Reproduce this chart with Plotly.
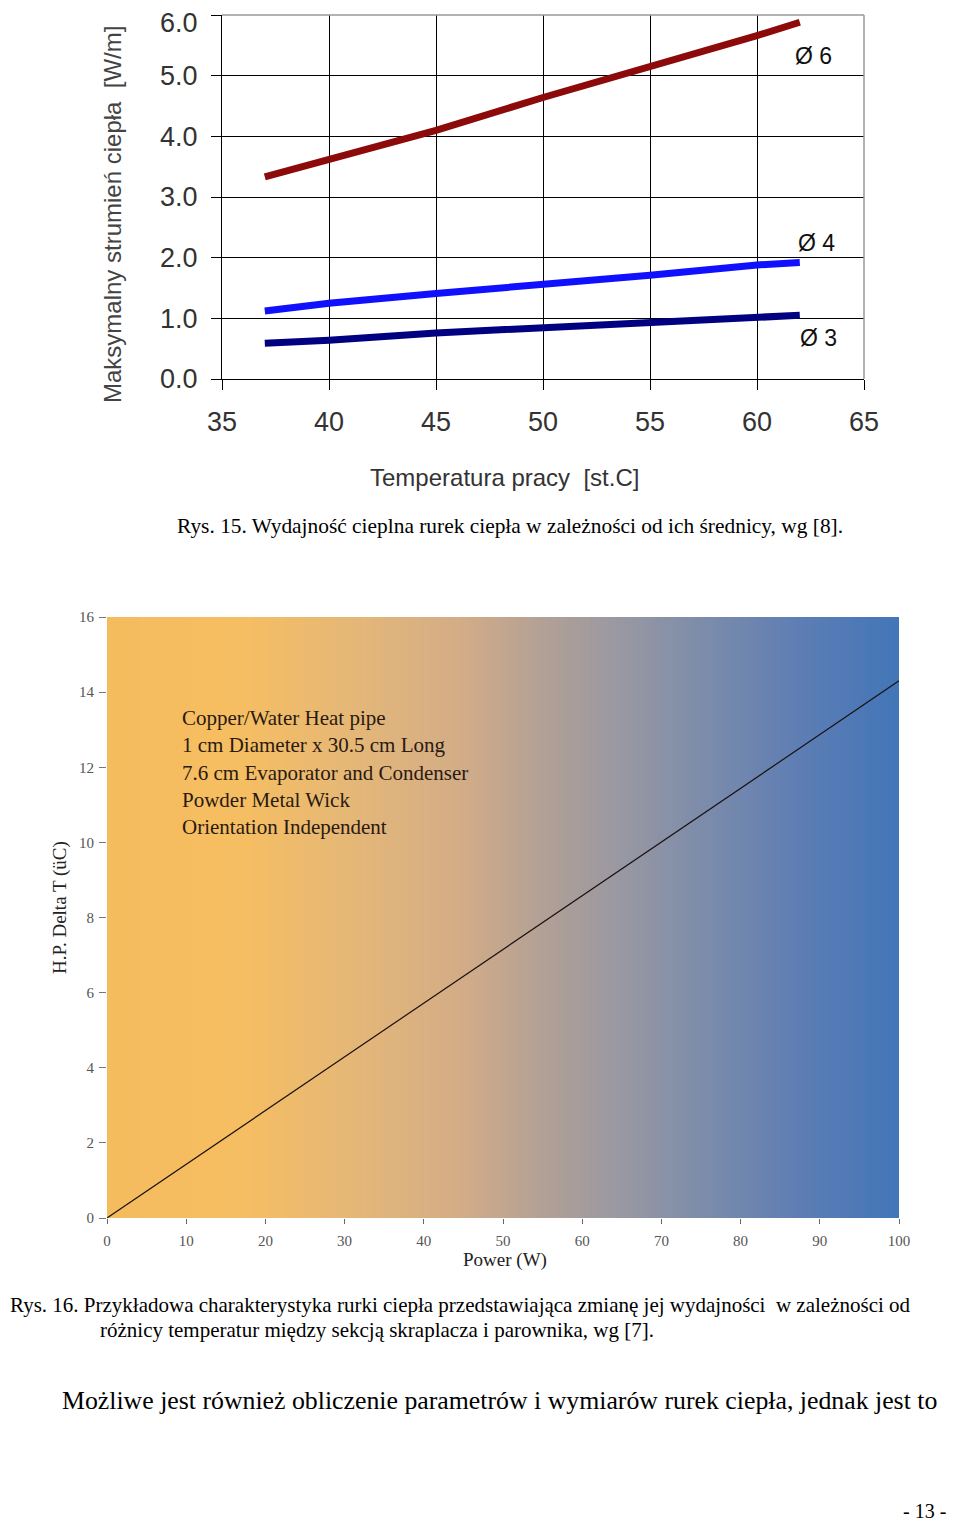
import numpy as np
import plotly.graph_objects as go

# ---------------- Data: chart 1 (Rys. 15) ----------------
temp_x = [37, 40, 45, 50, 55, 60, 62]
q_d6 = [3.33, 3.61, 4.10, 4.64, 5.14, 5.66, 5.88]
q_d4 = [1.12, 1.25, 1.41, 1.55, 1.71, 1.88, 1.92]
q_d3 = [0.59, 0.64, 0.76, 0.84, 0.92, 1.02, 1.05]
series_names = ["Ø 6", "Ø 4", "Ø 3"]
series_colors = ["#8c0a0a", "#1010ff", "#000080"]
label_x = [61.7, 61.8, 61.9]
label_y = [5.32, 2.25, 0.68]

x1_ticks = [35, 40, 45, 50, 55, 60, 65]
y1_ticks = [0, 1, 2, 3, 4, 5, 6]
y1_ticklabels = ["0.0", "1.0", "2.0", "3.0", "4.0", "5.0", "6.0"]

# ---------------- Data: chart 2 (Rys. 16) ----------------
power_x = [0, 100]
delta_t = [0, 14.3]
x2_ticks = [0, 10, 20, 30, 40, 50, 60, 70, 80, 90, 100]
y2_ticks = [0, 2, 4, 6, 8, 10, 12, 14, 16]
info_lines = ["Copper/Water Heat pipe", "1 cm Diameter x 30.5 cm Long",
              "7.6 cm Evaporator and Condenser", "Powder Metal Wick",
              "Orientation Independent"]

# page body has an 8px margin: the figure is placed at (8, 8)
OFF = 8
W, H = 960 - OFF, 1521 - OFF
def px(x):
    return (x - OFF) / W
def py(y):
    return 1 - (y - OFF) / H

SANS = "Liberation Sans, Arial"
SERIF = "Liberation Serif, Times New Roman"

fig = go.Figure()

# chart 1 lines
for ys, name, col in zip([q_d6, q_d4, q_d3], series_names, series_colors):
    fig.add_trace(go.Scatter(x=temp_x, y=ys, mode="lines", name=name,
                             line=dict(color=col, width=7), xaxis="x", yaxis="y",
                             showlegend=False, hoverinfo="skip"))

# chart 2 gradient background
gx = np.linspace(0, 100, 201)
fig.add_trace(go.Heatmap(x=gx, y=[0, 16], z=[gx, gx], xaxis="x2", yaxis="y2",
                         zsmooth="best", showscale=False, hoverinfo="skip",
                         colorscale=[[0.0, "rgb(245,188,94)"], [0.17, "rgb(246,190,98)"],
                                     [0.30, "rgb(230,184,118)"], [0.45, "rgb(210,172,135)"],
                                     [0.55, "rgb(178,160,150)"], [0.65, "rgb(152,152,162)"],
                                     [0.75, "rgb(125,140,170)"], [0.88, "rgb(92,125,180)"],
                                     [1.0, "rgb(66,118,184)"]]))
fig.add_trace(go.Scatter(x=power_x, y=delta_t, mode="lines", xaxis="x2", yaxis="y2",
                         line=dict(color="#1a1010", width=1.2), showlegend=False,
                         hoverinfo="skip"))

# the top tick label would be cut by the page edge; it is drawn as a text just below it
axis_ticktext = y1_ticklabels[:-1] + [""]

fig.update_layout(
    width=W, height=H, margin=dict(l=0, r=0, t=0, b=0, pad=0),
    paper_bgcolor="white", plot_bgcolor="rgba(0,0,0,0)",
    showlegend=False,
    xaxis=dict(domain=[px(222), px(864)], range=[35, 65], tickvals=x1_ticks,
               showgrid=True, gridcolor="black", gridwidth=1,
               showline=True, linecolor="black", linewidth=1,
               ticks="outside", ticklen=10, tickcolor="black", ticklabelstandoff=9,
               tickfont=dict(family=SANS, size=27, color="#333"),
               ticklabeloverflow="allow",
               anchor="y", zeroline=False, fixedrange=True, automargin=False),
    yaxis=dict(domain=[py(379), py(15)], range=[0, 6], tickvals=y1_ticks,
               ticktext=axis_ticktext,
               showgrid=True, gridcolor="black", gridwidth=1,
               showline=True, linecolor="black", linewidth=1,
               ticks="outside", ticklen=10, tickcolor="black", ticklabelstandoff=8,
               tickfont=dict(family=SANS, size=27, color="#333"),
               ticklabeloverflow="allow",
               anchor="x", zeroline=False, fixedrange=True, automargin=False),
    xaxis2=dict(domain=[px(107), px(899)], range=[0, 100], tickvals=x2_ticks,
                showgrid=False, showline=False, zeroline=False,
                ticks="outside", ticklen=5, tickcolor="#666", ticklabelstandoff=4,
                tickfont=dict(family=SERIF, size=15, color="#555"),
                ticklabeloverflow="allow",
                anchor="y2", fixedrange=True, automargin=False),
    yaxis2=dict(domain=[py(1218), py(617)], range=[0, 16], tickvals=y2_ticks,
                showgrid=False, showline=False, zeroline=False,
                ticks="outside", ticklen=7, tickcolor="#777", ticklabelstandoff=2,
                tickfont=dict(family=SERIF, size=15, color="#555"),
                ticklabeloverflow="allow",
                anchor="x2", fixedrange=True, automargin=False),
)

# top and right gray borders of chart 1
fig.add_shape(type="line", xref="x domain", yref="y domain", x0=0, x1=1, y0=1, y1=1,
              line=dict(color="#999", width=1.5))
fig.add_shape(type="line", xref="x domain", yref="y domain", x0=1, x1=1, y0=0, y1=1,
              line=dict(color="#999", width=1.5))

def note(x, y, text, size, family, color="black", xanchor="center", yanchor="middle",
         angle=0, align="center"):
    return dict(x=x, y=y, xref="paper", yref="paper", text=text, showarrow=False,
                xanchor=xanchor, yanchor=yanchor, textangle=angle, align=align,
                font=dict(family=family, size=size, color=color))

ann = []
# top y tick label of chart 1
ann.append(dict(x=0, y=1, xref="x domain", yref="paper", text=y1_ticklabels[-1],
                showarrow=False, xanchor="right", yanchor="top", xshift=-23, yshift=1,
                borderpad=0, font=dict(family=SANS, size=27, color="#333")))
# series labels
for name, lx, ly in zip(series_names, label_x, label_y):
    ann.append(dict(x=lx, y=ly, xref="x", yref="y", text=name, showarrow=False,
                    xanchor="left", yanchor="middle",
                    font=dict(family=SANS, size=23, color="#111")))
# chart 1 axis titles
ann.append(note(px(112), py(215), "Maksymalny strumień ciepła  [W/m]", 24, SANS, "#444",
                angle=-90))
ann.append(note(px(504), py(477), "Temperatura pracy  [st.C]", 24, SANS, "#333"))
# caption 1
ann.append(note(px(510), py(526),
                "Rys. 15. Wydajność cieplna rurek ciepła w zależności od ich średnicy, wg [8].",
                21.4, SERIF))
# chart 2 info text
ann.append(note(px(180), py(704), "<br>".join(info_lines), 21, SERIF, "#2a1a12",
                xanchor="left", yanchor="top", align="left"))
# chart 2 axis titles
ann.append(note(px(505), py(1260), "Power (W)", 19, SERIF, "#222"))
ann.append(note(px(60), py(908), "H.P. Delta T (üC)", 19, SERIF, "#222", angle=-90))
# caption 2
ann.append(note(px(8), py(1305),
                "Rys. 16. Przykładowa charakterystyka rurki ciepła przedstawiająca zmianę jej wydajności  w zależności od",
                21.0, SERIF, xanchor="left"))
ann.append(note(px(98), py(1330),
                "różnicy temperatur między sekcją skraplacza i parownika, wg [7].",
                21.0, SERIF, xanchor="left"))
# body text
ann.append(note(px(60), py(1400),
                "Możliwe jest również obliczenie parametrów i wymiarów rurek ciepła, jednak jest to",
                25.8, SERIF, xanchor="left"))
# page number
ann.append(note(px(948), py(1511), "- 13 -", 20, SERIF, xanchor="right"))

fig.update_layout(annotations=ann)
fig.write_html("out.html")
